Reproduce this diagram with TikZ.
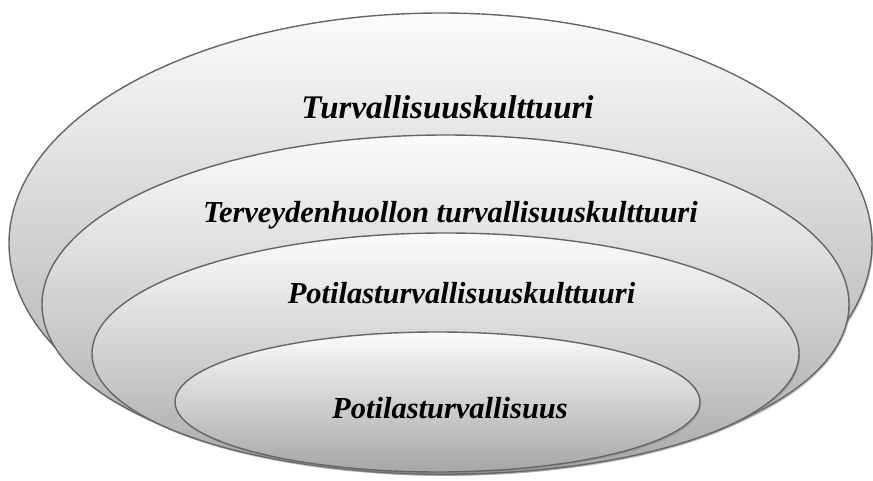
\documentclass[tikz,border=0pt]{standalone}
\usepackage{fontspec}
\setmainfont{Liberation Serif}
\usepackage{tikz}
\usetikzlibrary{shapes.geometric,shadows,positioning}
\definecolor{rim}{HTML}{666666}
\definecolor{hi}{HTML}{FBFBFB}
\definecolor{lo}{HTML}{A6A6A6}
\tikzset{
  ring/.style = {ellipse, draw=rim, line width=1.4pt, inner sep=0pt,
                 top color=hi, bottom color=lo,
                 drop shadow={shadow xshift=1.2pt, shadow yshift=-1.8pt, fill=black!45, opacity=0.5}},
  lab/.style  = {anchor=base, inner sep=0pt, font=\fontsize{30.5}{36}\selectfont\bfseries\itshape},
}
\begin{document}
\begin{tikzpicture}[x=1pt,y=1pt]
\useasboundingbox (0,0) rectangle (873,480);
% nested rings, outermost first
\node[ring, minimum width=863pt, minimum height=461pt] (turv) at (440.5,236.5) {};
\node[ring, minimum width=807pt, minimum height=339pt] (terv) at (445.5,175.5) {};
\node[ring, minimum width=707pt, minimum height=241pt] (potk) at (445.5,126.5) {};
\node[ring, minimum width=525pt, minimum height=140pt] (pot) at (437.5,78) {};
% labels
\node[lab, font=\fontsize{33}{38}\selectfont\bfseries\itshape] (turvt) at (447.5,361) {Turvallisuuskulttuuri};
\node[lab] (tervt) at (450.5,258) {Terveydenhuollon turvallisuuskulttuuri};
\node[lab] (potkt) at (461.5,177) {Potilasturvallisuuskulttuuri};
\node[lab] (pott) at (450,62) {Potilasturvallisuus};
\end{tikzpicture}
\end{document}
